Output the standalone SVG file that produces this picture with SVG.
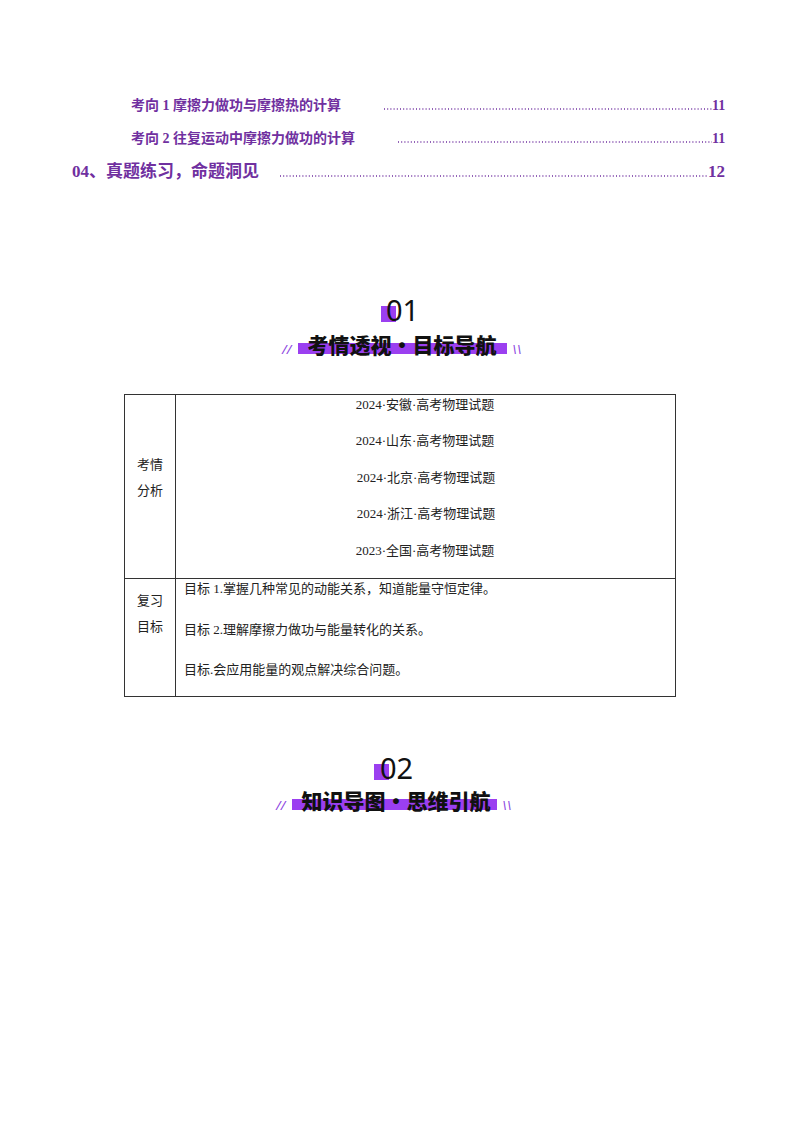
<svg xmlns="http://www.w3.org/2000/svg" width="800" height="1132" viewBox="0 0 800 1132">
<style>
.toc{font-family:"Liberation Serif","Noto Sans CJK SC",serif;font-weight:bold;fill:#7030A0}
.dot{stroke:#7030A0;stroke-width:1.3;stroke-dasharray:1 2.2}
.t{font-family:"Liberation Serif","Noto Sans CJK SC",serif;font-size:13px;fill:#222}
.h{font-family:"Noto Sans CJK SC",sans-serif;font-weight:900;font-size:21px;fill:#111}
.num{font-family:"Noto Sans","DejaVu Sans",sans-serif;font-size:29px;fill:#111}
.sl{font-family:"Noto Sans",sans-serif;font-size:13px;fill:#8a3fe0;font-style:italic}
.bar{fill:#9b3ff0}
</style>
<rect width="800" height="1132" fill="#fff"/>
<g id="toc">
<text class="toc" x="131" y="110" font-size="14">考向 1   摩擦力做功与摩擦热的计算</text>
<line class="dot" x1="384" y1="109" x2="712" y2="109"/>
<text class="toc" x="712" y="110" font-size="14">11</text>
<text class="toc" x="131" y="143" font-size="14">考向 2   往复运动中摩擦力做功的计算</text>
<line class="dot" x1="398" y1="142" x2="712" y2="142"/>
<text class="toc" x="712" y="143" font-size="14">11</text>
<text class="toc" x="72" y="177" font-size="17">04、真题练习，命题洞见</text>
<line class="dot" x1="280" y1="176" x2="708" y2="176"/>
<text class="toc" x="708" y="177" font-size="17">12</text>
</g>
<g id="heading1">
<rect class="bar" x="381" y="306" width="15" height="16"/>
<text class="num" x="386" y="321">01</text>
<rect class="bar" x="298" y="343" width="209" height="11"/>
<text class="h" x="402" y="353" text-anchor="middle">考情透视·目标导航</text>
<text class="sl" x="282" y="354">//</text>
<text class="sl" x="512" y="354">\\</text>
</g>
<g id="table" fill="none" stroke="#333" stroke-width="1">
<rect x="124.5" y="394.5" width="551" height="302"/>
<line x1="175.5" y1="394.5" x2="175.5" y2="696.5"/>
<line x1="124.5" y1="578.5" x2="675.5" y2="578.5"/>
</g>
<g id="cells">
<text class="t" x="150" y="469" text-anchor="middle">考情</text>
<text class="t" x="150" y="495" text-anchor="middle">分析</text>
<text class="t" x="425" y="409" text-anchor="middle">2024·安徽·高考物理试题</text>
<text class="t" x="425" y="445" text-anchor="middle">2024·山东·高考物理试题</text>
<text class="t" x="426" y="482" text-anchor="middle">2024·北京·高考物理试题</text>
<text class="t" x="426" y="518" text-anchor="middle">2024·浙江·高考物理试题</text>
<text class="t" x="425" y="555" text-anchor="middle">2023·全国·高考物理试题</text>
<text class="t" x="150" y="605" text-anchor="middle">复习</text>
<text class="t" x="150" y="631" text-anchor="middle">目标</text>
<text class="t" x="184" y="593">目标 1.掌握几种常见的动能关系，知道能量守恒定律。</text>
<text class="t" x="184" y="634">目标 2.理解摩擦力做功与能量转化的关系。</text>
<text class="t" x="184" y="674">目标.会应用能量的观点解决综合问题。</text>
</g>
<g id="heading2">
<rect class="bar" x="374" y="764" width="15" height="16"/>
<text class="num" x="380" y="779">02</text>
<rect class="bar" x="292" y="799" width="205" height="11"/>
<text class="h" x="396" y="809" text-anchor="middle">知识导图·思维引航</text>
<text class="sl" x="276" y="810">//</text>
<text class="sl" x="502" y="810">\\</text>
</g>
</svg>
